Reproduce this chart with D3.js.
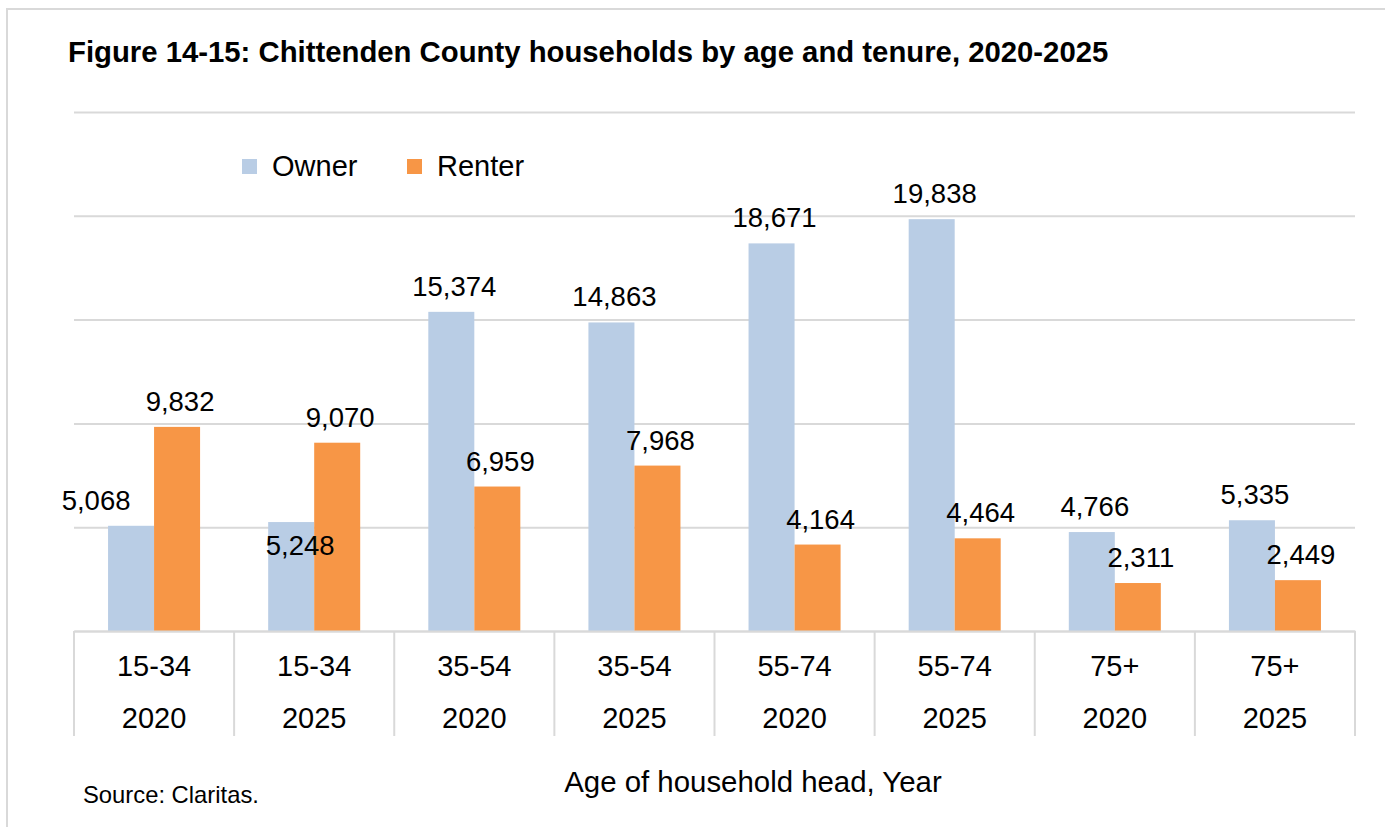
<!DOCTYPE html>
<html>
<head>
<meta charset="utf-8">
<title>Chittenden County households by age and tenure, 2020-2025</title>
<script src="https://cdn.jsdelivr.net/npm/d3@7"></script>
<style>
  html, body { margin: 0; padding: 0; background: #ffffff; }
  svg { display: block; font-family: Arial, "Liberation Sans", Helvetica, sans-serif; }
</style>
</head>
<body>
<svg id="chart" width="1385" height="827"></svg>
<script>
// Households by age of household head and year
const ageGroups = ["15-34", "15-34", "35-54", "35-54", "55-74", "55-74", "75+", "75+"];
const years = ["2020", "2025", "2020", "2025", "2020", "2025", "2020", "2025"];
const seriesNames = ["Owner", "Renter"];
const ownerValues = [5068, 5248, 15374, 14863, 18671, 19838, 4766, 5335];
const renterValues = [9832, 9070, 6959, 7968, 4164, 4464, 2311, 2449];
const gridTicks = [0, 5000, 10000, 15000, 20000, 25000];

const colors = { Owner: "#b9cde5", Renter: "#f79646" };

const rows = ageGroups.map((age, i) => ({
  key: age + " " + years[i],
  age: age,
  year: years[i],
  Owner: ownerValues[i],
  Renter: renterValues[i]
}));

const svg = d3.select("#chart");
const W = 1385, H = 827;
const plot = { left: 74, right: 1355, top: 112, bottom: 631 };

// chart frame
svg.append("rect")
  .attr("x", 7).attr("y", 9)
  .attr("width", W + 20).attr("height", H + 20)
  .attr("fill", "#ffffff")
  .attr("stroke", "#d9d9d9").attr("stroke-width", 2);

// title
svg.append("text")
  .attr("x", 68).attr("y", 62)
  .attr("font-size", 29.3).attr("font-weight", "bold").attr("fill", "#000")
  .text("Figure 14-15: Chittenden County households by age and tenure, 2020-2025");

const x0 = d3.scaleBand()
  .domain(rows.map(d => d.key))
  .range([plot.left, plot.right])
  .paddingInner(0).paddingOuter(0);

const x1 = d3.scaleBand()
  .domain(seriesNames)
  .range([0, x0.bandwidth()])
  .paddingInner(0).paddingOuter(0.74);

const y = d3.scaleLinear()
  .domain([0, 25000])
  .range([plot.bottom, plot.top]);

// horizontal gridlines
const grid = svg.append("g")
  .attr("transform", `translate(${plot.left},0)`)
  .call(d3.axisLeft(y).tickValues(gridTicks).tickSize(-(plot.right - plot.left)).tickFormat(""));
grid.select(".domain").remove();
grid.selectAll(".tick line").attr("stroke", "#d9d9d9").attr("stroke-width", 2);

// bars
const groups = svg.append("g").selectAll("g")
  .data(rows)
  .join("g")
  .attr("transform", d => `translate(${x0(d.key)},0)`);

groups.selectAll("rect")
  .data(d => seriesNames.map(s => ({ key: d.key, series: s, value: d[s] })))
  .join("rect")
  .attr("x", d => x1(d.series))
  .attr("y", d => y(d.value))
  .attr("width", x1.bandwidth())
  .attr("height", d => y(0) - y(d.value))
  .attr("fill", d => colors[d.series]);

// value labels, nudged where Excel moved them clear of neighbours
const labelNudge = {
  "15-34 2020|Owner": [-38, 0],
  "15-34 2025|Owner": [6, 49]
};
const fmt = d3.format(",");
groups.selectAll("text.value")
  .data(d => seriesNames.map(s => ({ key: d.key, series: s, value: d[s] })))
  .join("text")
  .attr("class", "value")
  .attr("x", d => x1(d.series) + x1.bandwidth() / 2 + 3 + (labelNudge[d.key + "|" + d.series] || [0, 0])[0])
  .attr("y", d => y(d.value) - 16 + (labelNudge[d.key + "|" + d.series] || [0, 0])[1])
  .attr("text-anchor", "middle")
  .attr("font-size", 27.5).attr("fill", "#000")
  .text(d => fmt(d.value));

// category axis drawn as a two-row table
const axisG = svg.append("g").attr("transform", `translate(0,${plot.bottom})`);
const axisBottom = d3.axisBottom(x0).tickSize(0).tickFormat("");
axisG.call(axisBottom);
axisG.select(".domain").attr("stroke", "#d9d9d9").attr("stroke-width", 2);
axisG.selectAll(".tick text").remove();

const sepX = rows.map(d => x0(d.key)).concat([x0.range()[1]]);
axisG.selectAll("line.sep")
  .data(sepX)
  .join("line")
  .attr("class", "sep")
  .attr("x1", d => d).attr("x2", d => d)
  .attr("y1", 0).attr("y2", 105)
  .attr("stroke", "#d9d9d9").attr("stroke-width", 2);

axisG.selectAll("text.age")
  .data(rows)
  .join("text")
  .attr("class", "age")
  .attr("x", d => x0(d.key) + x0.bandwidth() / 2)
  .attr("y", 45)
  .attr("text-anchor", "middle")
  .attr("font-size", 29).attr("fill", "#000")
  .text(d => d.age);

axisG.selectAll("text.year")
  .data(rows)
  .join("text")
  .attr("class", "year")
  .attr("x", d => x0(d.key) + x0.bandwidth() / 2)
  .attr("y", 97)
  .attr("text-anchor", "middle")
  .attr("font-size", 29).attr("fill", "#000")
  .text(d => d.year);

// axis title
svg.append("text")
  .attr("x", 753).attr("y", 792)
  .attr("text-anchor", "middle")
  .attr("font-size", 29.4).attr("fill", "#000")
  .text("Age of household head, Year");

// source note
svg.append("text")
  .attr("x", 83).attr("y", 803)
  .attr("font-size", 23.8).attr("fill", "#000")
  .text("Source: Claritas.");

// legend
const legendX = [242, 407];
const legend = svg.append("g").selectAll("g")
  .data(seriesNames)
  .join("g")
  .attr("transform", (d, i) => `translate(${legendX[i]},159)`);
legend.append("rect")
  .attr("width", 15).attr("height", 15)
  .attr("fill", d => colors[d]);
legend.append("text")
  .attr("x", 30).attr("y", 17)
  .attr("font-size", 29).attr("fill", "#000")
  .text(d => d);
</script>
</body>
</html>
